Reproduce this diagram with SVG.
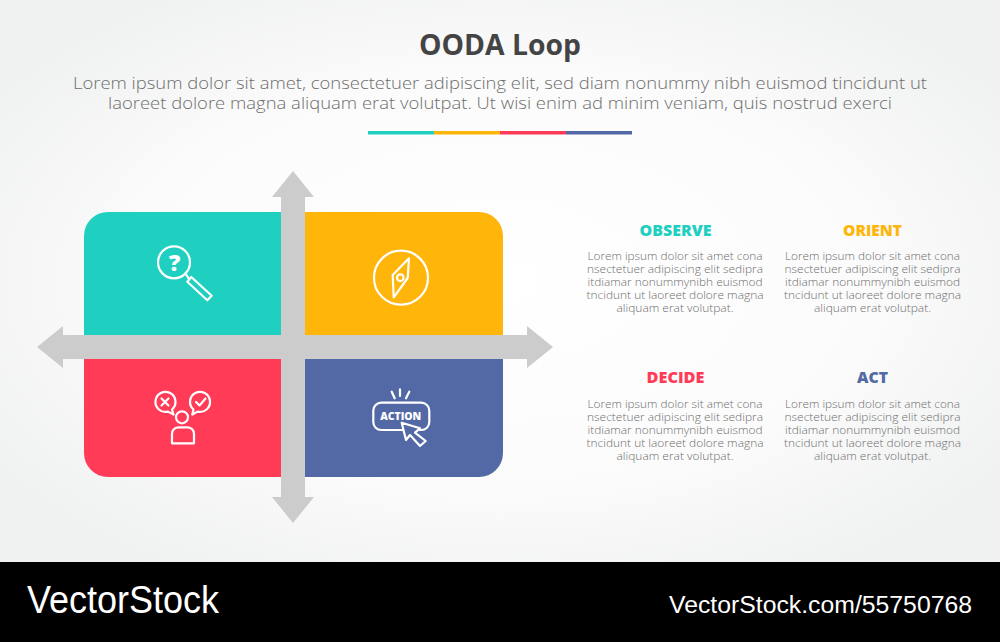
<svg xmlns="http://www.w3.org/2000/svg" width="1000" height="642" viewBox="0 0 1000 642">
<style>
text{font-family:"Open Sans","Noto Sans","Liberation Sans",sans-serif;text-anchor:middle}
.title{font-size:29px;font-weight:700;fill:#444}
.lead{font-size:16px;font-weight:300;fill:#6e6e6e}
.head{font-size:15.5px;font-weight:800}
.body{font-size:10.500px;font-weight:300;fill:#6e6e6e}
.ic{fill:none;stroke:#fff;stroke-width:2.200;stroke-linejoin:round;stroke-linecap:round}
.wm{font-family:"Liberation Sans",Arial,sans-serif;fill:#fff;text-anchor:start}
</style>
<defs>
<radialGradient id="bg" cx="50%" cy="50%" r="62%">
<stop offset="0" stop-color="#ffffff"/><stop offset="0.6" stop-color="#fbfbfb"/><stop offset="1" stop-color="#eff0f0"/>
</radialGradient>
<clipPath id="card"><rect x="84" y="212" width="419" height="265" rx="24"/></clipPath>
</defs>
<rect width="1000" height="562" fill="url(#bg)"/>
<g id="header">
<text class="title" x="500" y="55" textLength="162" lengthAdjust="spacingAndGlyphs">OODA Loop</text>
<text class="lead" x="500" y="89" textLength="854" lengthAdjust="spacingAndGlyphs">Lorem ipsum dolor sit amet, consectetuer adipiscing elit, sed diam nonummy nibh euismod tincidunt ut</text>
<text class="lead" x="500" y="109" textLength="784" lengthAdjust="spacingAndGlyphs">laoreet dolore magna aliquam erat volutpat. Ut wisi enim ad minim veniam, quis nostrud exerci</text>
<rect x="368" y="131" width="66" height="3.500" fill="#1fcfc0"/>
<rect x="434" y="131" width="66" height="3.500" fill="#ffb509"/>
<rect x="500" y="131" width="66" height="3.500" fill="#ff3b58"/>
<rect x="566" y="131" width="66" height="3.500" fill="#5369a5"/>
</g>
<g clip-path="url(#card)">
<rect id="observe-block" x="84" y="212" width="209" height="135" fill="#1fcfc0"/>
<rect id="orient-block" x="293" y="212" width="210" height="135" fill="#ffb509"/>
<rect id="decide-block" x="84" y="347" width="209" height="130" fill="#ff3b58"/>
<rect id="act-block" x="293" y="347" width="210" height="130" fill="#5369a5"/>
</g>
<g id="connectors" fill="#cccccc">
<polygon points="37,347 63,326 63,335 281,335 281,197 272,197 293,171 314,197 305,197 305,335 527,335 527,326 553,347 527,368 527,359 305,359 305,497 314,497 293,523 272,497 281,497 281,359 63,359 63,368"/>
</g>
<g id="observe-icon">
<circle class="ic" cx="174" cy="262.300" r="16"/>
<path class="ic" d="M185.500 273.500L189 279M187.300 281.700L191.300 277L211.700 295.700L207.300 300.300Z"/>
<text x="174.500" y="271" style="font-size:23px;font-weight:800" fill="#fff">?</text>
</g>
<g id="orient-icon">
<circle class="ic" cx="401" cy="277.700" r="27"/>
<path class="ic" d="M409 258.300L407.700 278L393.700 297.300L392.700 275Z"/>
<circle class="ic" cx="400.300" cy="277.700" r="3.300"/>
</g>
<g id="decide-icon">
<path class="ic" d="M172 409.500A10 10 0 1 0 168 411.600L173.500 414.500Z"/>
<path class="ic" d="M193.500 409.500A10 10 0 1 1 197.500 411.600L192.300 414.500Z"/>
<path class="ic" d="M161.500 398.500L168.500 405.500M168.500 398.500L161.500 405.500M196 402L199.500 405.500L205.500 398.500"/>
<circle class="ic" cx="182" cy="417.300" r="6"/>
<path class="ic" d="M172 443.300V434C172 430 175 427.300 179 427.300H187C191 427.300 194 430 194 434V443.300Z"/>
</g>
<g id="act-icon">
<rect class="ic" x="373.300" y="402.700" width="56" height="27.300" rx="8"/>
<path class="ic" d="M391.700 391.700L394.700 398.300M400 389.300V396M409.300 391.700L406 398.300"/>
<text x="400.800" y="420" style="font-size:11px;font-weight:800" fill="#fff" textLength="41" lengthAdjust="spacingAndGlyphs">ACTION</text>
<path d="M401.700 422.700L420 428.300L415 432.700L425.700 441L420 446L410 435L406 440Z" fill="#5369a5" stroke="#fff" stroke-width="2.200" stroke-linejoin="round"/>
</g>
<g id="observe">
<text class="head" x="675.500" y="235.500" fill="#1fcfc0" textLength="72" lengthAdjust="spacingAndGlyphs">OBSERVE</text>
<text class="body" x="675" y="260" textLength="175" lengthAdjust="spacingAndGlyphs">Lorem ipsum dolor sit amet cona</text>
<text class="body" x="675" y="273" textLength="176" lengthAdjust="spacingAndGlyphs">nsectetuer adipiscing elit sedipra</text>
<text class="body" x="675" y="286" textLength="175" lengthAdjust="spacingAndGlyphs">itdiamar nonummynibh euismod</text>
<text class="body" x="675" y="299" textLength="177" lengthAdjust="spacingAndGlyphs">tncidunt ut laoreet dolore magna</text>
<text class="body" x="675" y="312" textLength="117" lengthAdjust="spacingAndGlyphs">aliquam erat volutpat.</text>
</g>
<g id="orient">
<text class="head" x="872.500" y="235.500" fill="#ffb509" textLength="59" lengthAdjust="spacingAndGlyphs">ORIENT</text>
<text class="body" x="872.500" y="260" textLength="175" lengthAdjust="spacingAndGlyphs">Lorem ipsum dolor sit amet cona</text>
<text class="body" x="872.500" y="273" textLength="176" lengthAdjust="spacingAndGlyphs">nsectetuer adipiscing elit sedipra</text>
<text class="body" x="872.500" y="286" textLength="175" lengthAdjust="spacingAndGlyphs">itdiamar nonummynibh euismod</text>
<text class="body" x="872.500" y="299" textLength="177" lengthAdjust="spacingAndGlyphs">tncidunt ut laoreet dolore magna</text>
<text class="body" x="872.500" y="312" textLength="117" lengthAdjust="spacingAndGlyphs">aliquam erat volutpat.</text>
</g>
<g id="decide">
<text class="head" x="675.500" y="383" fill="#ff3b58" textLength="58" lengthAdjust="spacingAndGlyphs">DECIDE</text>
<text class="body" x="675" y="408" textLength="175" lengthAdjust="spacingAndGlyphs">Lorem ipsum dolor sit amet cona</text>
<text class="body" x="675" y="421" textLength="176" lengthAdjust="spacingAndGlyphs">nsectetuer adipiscing elit sedipra</text>
<text class="body" x="675" y="434" textLength="175" lengthAdjust="spacingAndGlyphs">itdiamar nonummynibh euismod</text>
<text class="body" x="675" y="447" textLength="177" lengthAdjust="spacingAndGlyphs">tncidunt ut laoreet dolore magna</text>
<text class="body" x="675" y="460" textLength="117" lengthAdjust="spacingAndGlyphs">aliquam erat volutpat.</text>
</g>
<g id="act">
<text class="head" x="872.500" y="383" fill="#5369a5" textLength="31" lengthAdjust="spacingAndGlyphs">ACT</text>
<text class="body" x="872.500" y="408" textLength="175" lengthAdjust="spacingAndGlyphs">Lorem ipsum dolor sit amet cona</text>
<text class="body" x="872.500" y="421" textLength="176" lengthAdjust="spacingAndGlyphs">nsectetuer adipiscing elit sedipra</text>
<text class="body" x="872.500" y="434" textLength="175" lengthAdjust="spacingAndGlyphs">itdiamar nonummynibh euismod</text>
<text class="body" x="872.500" y="447" textLength="177" lengthAdjust="spacingAndGlyphs">tncidunt ut laoreet dolore magna</text>
<text class="body" x="872.500" y="460" textLength="117" lengthAdjust="spacingAndGlyphs">aliquam erat volutpat.</text>
</g>
<g id="footer">
<rect x="0" y="562" width="1000" height="80" fill="#000"/>
<text class="wm" x="27" y="613" font-size="38" textLength="192" lengthAdjust="spacingAndGlyphs">VectorStock</text>
<text class="wm" x="669" y="612.500" font-size="23" textLength="303" lengthAdjust="spacingAndGlyphs">VectorStock.com/55750768</text>
</g>
</svg>
